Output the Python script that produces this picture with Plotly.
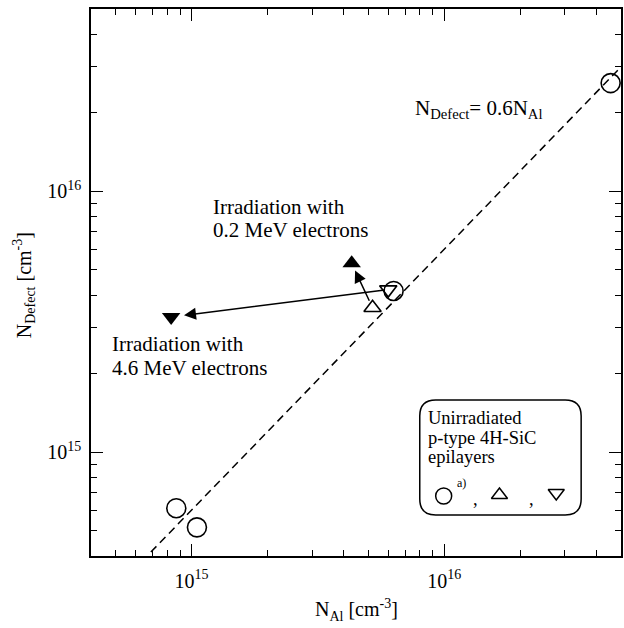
import numpy as np
import plotly.graph_objects as go

# ---------------- data ----------------
unirr_circle_x = [8.7e14, 1.05e15, 6.3e15, 4.55e16]
unirr_circle_y = [6.1e14, 5.15e14, 4.15e15, 2.6e16]
unirr_up_x = [5.2e15]
unirr_up_y = [3.58e15]
unirr_down_x = [6.0e15]
unirr_down_y = [4.2e15]
irr_02MeV_x = [4.3e15]
irr_02MeV_y = [5.3e15]
irr_46MeV_x = [8.3e14]
irr_46MeV_y = [3.3e15]
fit_x = [6.9e14, 5.0e16]
fit_coef = 0.6
x_range = [4e14, 5e16]
y_range = [4e14, 5e16]
major_tick_vals = [1e15, 1e16]
major_tick_text = ["10<sup>15</sup>", "10<sup>16</sup>"]

FONT = "Liberation Serif"
W, H = 624, 628
ML, MR, MT, MB = 91, 1, 9, 72
PW, PH = W - ML - MR, H - MT - MB


def px(x):
    return (x - ML) / PW


def py(y):
    return (H - MB - y) / PH


minor_vals = [d * m for d in (1e14, 1e15, 1e16) for m in range(2, 10)
              if x_range[0] < d * m < x_range[1]]

fig = go.Figure()

# fit line
fig.add_trace(go.Scatter(
    x=fit_x, y=[fit_coef * v for v in fit_x], mode="lines",
    line=dict(color="black", width=1.5, dash="8px,5px"),
    hoverinfo="skip", showlegend=False))

mk_line = dict(color="black", width=1.6)
fig.add_trace(go.Scatter(
    x=unirr_circle_x, y=unirr_circle_y, mode="markers", cliponaxis=False,
    marker=dict(symbol="circle-open", size=19, color="black", line=mk_line),
    showlegend=False))
fig.add_trace(go.Scatter(
    x=unirr_down_x, y=unirr_down_y, mode="markers", cliponaxis=False,
    marker=dict(symbol="triangle-down-open", size=15, color="black", line=mk_line),
    showlegend=False))
fig.add_trace(go.Scatter(
    x=unirr_up_x, y=unirr_up_y, mode="markers", cliponaxis=False,
    marker=dict(symbol="triangle-up-open", size=15, color="black", line=mk_line),
    showlegend=False))
fig.add_trace(go.Scatter(
    x=irr_02MeV_x, y=irr_02MeV_y, mode="markers", cliponaxis=False,
    marker=dict(symbol="triangle-up", size=16, color="black", line=dict(width=0)),
    showlegend=False))
fig.add_trace(go.Scatter(
    x=irr_46MeV_x, y=irr_46MeV_y, mode="markers", cliponaxis=False,
    marker=dict(symbol="triangle-down", size=16, color="black", line=dict(width=0)),
    showlegend=False))

# legend-box symbols on an invisible overlay axis (0..1 fractions)
leg_sym = [("circle-open", 16, px(445), py(496)),
           ("triangle-up-open", 14, px(501), py(495)),
           ("triangle-down-open", 14, px(558), py(493))]
for sym, sz, lx, ly in leg_sym:
    fig.add_trace(go.Scatter(
        x=[lx], y=[ly], xaxis="x2", yaxis="y2", mode="markers", cliponaxis=False,
        marker=dict(symbol=sym, size=sz, color="black", line=dict(color="black", width=1.5)),
        showlegend=False, hoverinfo="skip"))

L = np.log10
ann = []
# arrows (from unirradiated to irradiated)
ann.append(dict(x=L(irr_46MeV_x[0]), y=L(irr_46MeV_y[0]),
                ax=L(unirr_down_x[0]), ay=L(unirr_down_y[0]),
                xref="x", yref="y", axref="x", ayref="y", text="",
                showarrow=True, arrowhead=2, arrowsize=1.6, arrowwidth=1.5,
                arrowcolor="black", standoff=13, startstandoff=2))
ann.append(dict(x=L(irr_02MeV_x[0]), y=L(irr_02MeV_y[0]),
                ax=L(unirr_up_x[0]), ay=L(unirr_up_y[0]),
                xref="x", yref="y", axref="x", ayref="y", text="",
                showarrow=True, arrowhead=2, arrowsize=1.6, arrowwidth=1.5,
                arrowcolor="black", standoff=8, startstandoff=6))


def txt(t, x, y, size, xanchor="left"):
    return dict(text=t, x=x, y=y, xref="paper", yref="paper", showarrow=False,
                xanchor=xanchor, yanchor="middle",
                font=dict(family=FONT, size=size, color="black"))


ann += [
    txt("Irradiation with", px(211), py(207), 21),
    txt("0.2 MeV electrons", px(211), py(230), 21),
    txt("Irradiation with", px(110), py(344), 21),
    txt("4.6 MeV electrons", px(110), py(368), 21),
    txt("N<sub>Defect</sub>= 0.6N<sub>Al</sub>", px(414), py(109), 21),
    txt("Unirradiated", px(427), py(418), 18.5),
    txt("p-type 4H-SiC", px(427), py(438), 18.5),
    txt("epilayers", px(427), py(457), 18.5),
    txt("a)", px(456), py(483), 12),
    txt(",", px(472), py(499), 18.5),
    txt(",", px(529), py(499), 18.5),
    # axis titles
    txt("N<sub>Al</sub> [cm<sup>-3</sup>]", 0.5, py(610), 20, xanchor="center"),
]
ann.append(dict(text="N<sub>Defect</sub> [cm<sup>-3</sup>]", x=px(24), y=py(285),
                xref="paper", yref="paper", showarrow=False, textangle=-90,
                xanchor="center", yanchor="middle",
                font=dict(family=FONT, size=20, color="black")))

# rounded legend box
bx0, bx1, by0, by1 = px(421), px(583), py(515), py(400)
rx, ry = 16 / PW, 16 / PH
path = (f"M {bx0+rx},{by1} L {bx1-rx},{by1} Q {bx1},{by1} {bx1},{by1-ry} "
        f"L {bx1},{by0+ry} Q {bx1},{by0} {bx1-rx},{by0} "
        f"L {bx0+rx},{by0} Q {bx0},{by0} {bx0},{by0+ry} "
        f"L {bx0},{by1-ry} Q {bx0},{by1} {bx0+rx},{by1} Z")
shapes = [dict(type="path", path=path, xref="paper", yref="paper",
               line=dict(color="black", width=1.5), fillcolor="rgba(0,0,0,0)")]

axis_common = dict(
    type="log", showline=True, linecolor="black", linewidth=1.5, mirror="ticks",
    ticks="inside", ticklen=12, tickwidth=1, tickcolor="black",
    tickmode="array", tickvals=major_tick_vals, ticktext=major_tick_text,
    tickfont=dict(family=FONT, size=20, color="black"),
    showgrid=False, zeroline=False,
    minor=dict(ticks="inside", ticklen=6, tickwidth=1, tickcolor="black",
               tickmode="array", tickvals=minor_vals, showgrid=False),
)

fig.update_layout(
    width=W, height=H,
    margin=dict(l=ML, r=MR, t=MT, b=MB, pad=0),
    paper_bgcolor="white", plot_bgcolor="white",
    xaxis=dict(range=[L(x_range[0]), L(x_range[1])], ticklabelstandoff=6, **axis_common),
    yaxis=dict(range=[L(y_range[0]), L(y_range[1])], ticklabelstandoff=4, **axis_common),
    xaxis2=dict(range=[0, 1], overlaying="x", visible=False, anchor="y2"),
    yaxis2=dict(range=[0, 1], overlaying="y", visible=False, anchor="x2"),
    annotations=ann, shapes=shapes, showlegend=False,
    font=dict(family=FONT, color="black"),
)

fig.write_html(
    "out.html",
    config={"displayModeBar": False},
    post_script=("document.documentElement.style.margin='0';"
                 "document.documentElement.style.overflow='hidden';"
                 "document.body.style.margin='0';document.body.style.padding='0';"),
)
